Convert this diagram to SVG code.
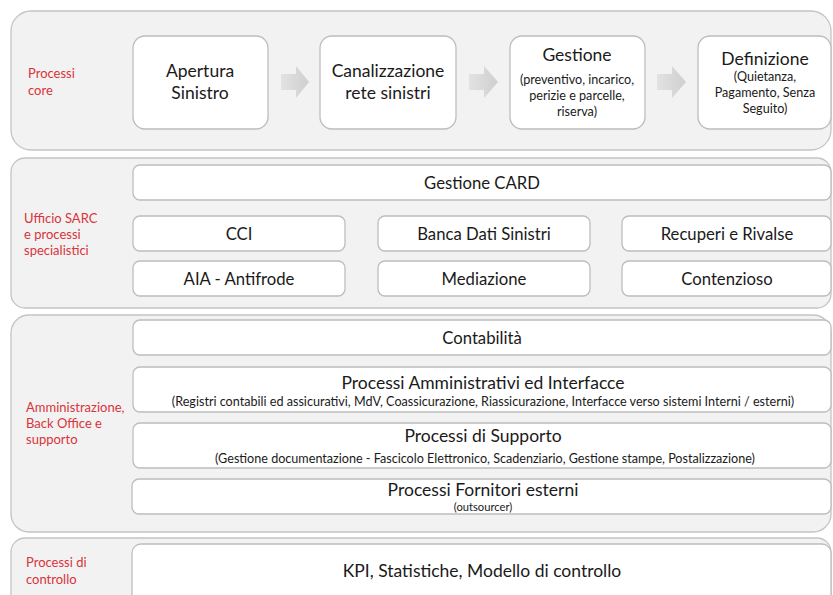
<svg xmlns="http://www.w3.org/2000/svg" width="833" height="595" viewBox="0 0 833 595">
<defs>
<style>
.band{fill:#f2f2f2;stroke:#c4c4c4;stroke-width:1.3}
.box{fill:#fff;stroke:#bdbdbd;stroke-width:1.3}
.lbl{font-family:Lato,"Open Sans",sans-serif;font-size:13px;fill:#d9343a}
.t{font-family:Lato,"Open Sans",sans-serif;fill:#1a1a1a;text-anchor:middle}
.t16{font-size:17.5px}
.t15{font-size:16.7px}
.s{font-size:12.6px}
.s10{font-size:11.2px}
.arr{fill:url(#ag)}
</style>
<linearGradient id="ag" x1="0" y1="0" x2="1" y2="0">
<stop offset="0" stop-color="#e2e2e2"/>
<stop offset="1" stop-color="#cfcfcf"/>
</linearGradient>
</defs>
<rect width="833" height="595" fill="#fff"/>

<g id="band-core">
<rect class="band" x="11" y="11" width="820" height="139" rx="20"/>
<text class="lbl" x="28" y="78">Processi</text>
<text class="lbl" x="28" y="95">core</text>
</g>
<g id="band-sarc">
<rect class="band" x="11" y="158" width="820" height="150" rx="14"/>
<text class="lbl" x="24" y="223">Ufficio SARC</text>
<text class="lbl" x="24" y="239">e processi</text>
<text class="lbl" x="24" y="255">specialistici</text>
</g>
<g id="band-admin">
<rect class="band" x="11" y="315" width="820" height="217" rx="18"/>
<text class="lbl" x="26" y="412">Amministrazione,</text>
<text class="lbl" x="26" y="428">Back Office e</text>
<text class="lbl" x="26" y="444">supporto</text>
</g>
<g id="band-controllo">
<rect class="band" x="11" y="538" width="820" height="80" rx="14"/>
<text class="lbl" x="26" y="567">Processi di</text>
<text class="lbl" x="26" y="584">controllo</text>
</g>

<g id="apertura">
<rect class="box" x="133" y="36" width="135" height="93" rx="12"/>
<text class="t t16" x="200" y="77">Apertura</text>
<text class="t t16" x="200" y="99">Sinistro</text>
</g>
<g id="canalizzazione">
<rect class="box" x="320" y="36" width="136" height="93" rx="12"/>
<text class="t t16" x="388" y="77">Canalizzazione</text>
<text class="t t16" x="388" y="99">rete sinistri</text>
</g>
<g id="gestione">
<rect class="box" x="510" y="36" width="135" height="93" rx="12"/>
<text class="t t16" x="577" y="61">Gestione</text>
<text class="t s" x="577" y="84">(preventivo, incarico,</text>
<text class="t s" x="577" y="100">perizie e parcelle,</text>
<text class="t s" x="577" y="116">riserva)</text>
</g>
<g id="definizione">
<rect class="box" x="698" y="36" width="133" height="93" rx="12"/>
<text class="t t16" x="765" y="65">Definizione</text>
<text class="t s" x="765" y="81">(Quietanza,</text>
<text class="t s" x="765" y="97">Pagamento, Senza</text>
<text class="t s" x="765" y="113">Seguito)</text>
</g>

<g id="connectors">
<path class="arr" d="M281,74 H296 V66 L309,82 L296,98 V90 H281 Z"/>
<path class="arr" d="M469,74 H484 V66 L498,82 L484,98 V90 H469 Z"/>
<path class="arr" d="M657,74 H672 V66 L686,82 L672,98 V90 H657 Z"/>
</g>

<g id="gestione-card">
<rect class="box" x="133" y="165" width="698" height="35" rx="7"/>
<text class="t t15" x="482" y="189">Gestione CARD</text>
</g>
<g id="cci">
<rect class="box" x="133" y="216" width="212" height="35" rx="7"/>
<text class="t t15" x="239" y="240">CCI</text>
</g>
<g id="banca-dati">
<rect class="box" x="378" y="216" width="212" height="35" rx="7"/>
<text class="t t15" x="484" y="240">Banca Dati Sinistri</text>
</g>
<g id="recuperi">
<rect class="box" x="622" y="216" width="209" height="35" rx="7"/>
<text class="t t15" x="727" y="240">Recuperi e Rivalse</text>
</g>
<g id="aia">
<rect class="box" x="133" y="261" width="212" height="35" rx="7"/>
<text class="t t15" x="239" y="285">AIA - Antifrode</text>
</g>
<g id="mediazione">
<rect class="box" x="378" y="261" width="212" height="35" rx="7"/>
<text class="t t15" x="484" y="285">Mediazione</text>
</g>
<g id="contenzioso">
<rect class="box" x="622" y="261" width="209" height="35" rx="7"/>
<text class="t t15" x="727" y="285">Contenzioso</text>
</g>

<g id="contabilita">
<rect class="box" x="133" y="320" width="698" height="35" rx="7"/>
<text class="t t15" x="482" y="344">Contabilità</text>
</g>
<g id="amministrativi">
<rect class="box" x="133" y="367" width="698" height="45" rx="7"/>
<text class="t t16" x="483" y="389">Processi Amministrativi ed Interfacce</text>
<text class="t s" x="483" y="406">(Registri contabili ed assicurativi, MdV, Coassicurazione, Riassicurazione, Interfacce verso sistemi Interni / esterni)</text>
</g>
<g id="supporto">
<rect class="box" x="133" y="423" width="698" height="45" rx="7"/>
<text class="t t16" x="483" y="442">Processi di Supporto</text>
<text class="t s" x="485" y="463">(Gestione documentazione - Fascicolo Elettronico, Scadenziario, Gestione stampe, Postalizzazione)</text>
</g>
<g id="fornitori">
<rect class="box" x="132" y="479" width="699" height="35" rx="7"/>
<text class="t t16" x="483" y="496">Processi Fornitori esterni</text>
<text class="t s10" x="483" y="511">(outsourcer)</text>
</g>

<g id="kpi">
<rect class="box" x="132" y="544" width="699" height="70" rx="9"/>
<text class="t t16" x="482" y="577">KPI, Statistiche, Modello di controllo</text>
</g>
</svg>
